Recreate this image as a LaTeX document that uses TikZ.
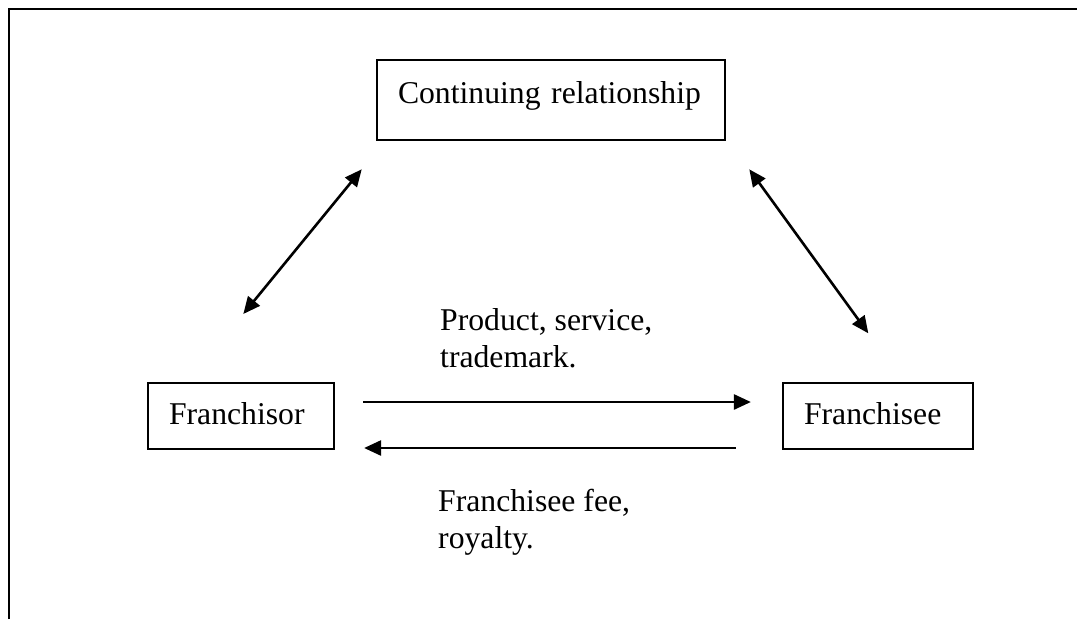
\documentclass[tikz,border=0pt]{standalone}
\usepackage{fontspec}
\setmainfont{Liberation Serif}
\usetikzlibrary{arrows.meta}
\begin{document}
\begin{tikzpicture}[x=1pt,y=-1pt,
  every node/.style={font=\fontsize{31.7}{37}\selectfont},
  box/.style={draw, line width=2.2pt, inner xsep=21pt, inner ysep=0pt, align=left},
  arr/.style={line width=2.6pt, -{Triangle[length=17pt,width=15pt]}},
  biarr/.style={line width=2.6pt, {Triangle[length=17pt,width=15pt]}-{Triangle[length=17pt,width=15pt]}},
  lbl/.style={anchor=base west, align=left, inner sep=0pt}]
\useasboundingbox (0,0) rectangle (1077,619);
% open frame: left and top edges
\draw[line width=2.8pt] (9,619) -- (9,9) -- (1077,9);

% boxes
\node[box, text width=306pt, minimum height=80pt, text height=20pt, text depth=14pt]
  (cr) at (551,100) {Continuing relationship};
\node[box, text width=144pt, minimum height=66pt, text height=22pt, text depth=6pt]
  (fr) at (241,416) {Franchisor};
\node[box, text width=148pt, minimum height=66pt, text height=22pt, text depth=6pt]
  (fe) at (878,416) {Franchisee};

% flows between franchisor and franchisee
\draw[arr, shorten <=28pt, shorten >=31pt] ([yshift=14pt]fr.east) -- ([yshift=14pt]fe.west);
\draw[arr, shorten <=46pt, shorten >=29pt] ([yshift=-32pt]fe.west) -- ([yshift=-32pt]fr.east);

% flow labels (anchored at the baseline of the last line)
\node[lbl] (l1) at (440,367) {Product, service,\\trademark.};
\node[lbl] (l2) at (438,548) {Franchisee fee,\\royalty.};

% links to the continuing relationship
\coordinate (a1) at (243.3,314);
\coordinate (a2) at (361.7,169.3);
\coordinate (b1) at (749.3,169.3);
\coordinate (b2) at (868.3,333.3);
\draw[biarr] (a1) -- (a2);
\draw[biarr] (b1) -- (b2);
\end{tikzpicture}
\end{document}
